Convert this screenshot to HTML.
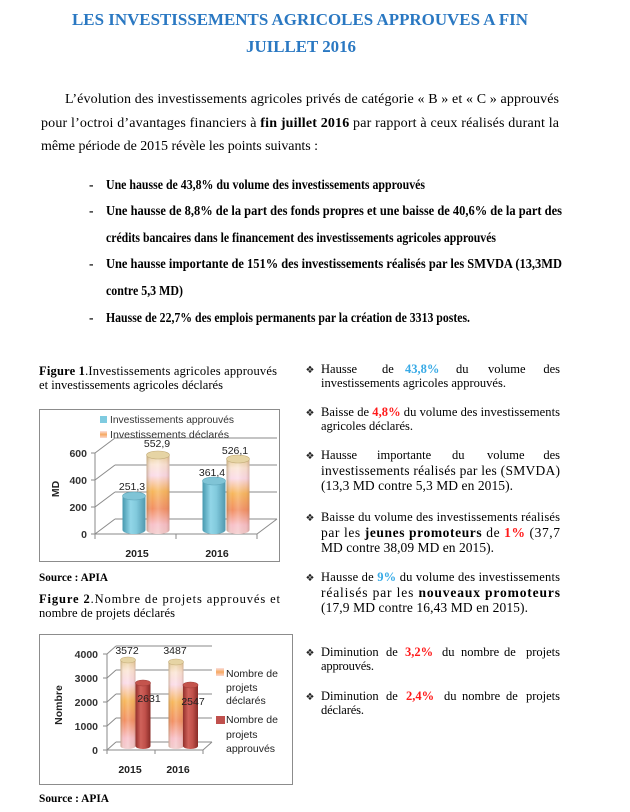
<!DOCTYPE html>
<html><head><meta charset="utf-8">
<style>
html,body{margin:0;padding:0;background:#fff;}
svg{display:block;}
.s{font-family:"Liberation Serif",serif;}
.a{font-family:"Liberation Sans",sans-serif;}
.d{font-family:"DejaVu Sans",sans-serif;}
</style></head>
<body>
<svg width="630" height="812" viewBox="0 0 630 812" xmlns="http://www.w3.org/2000/svg">
<defs>
  <linearGradient id="gBlue" x1="0" y1="0" x2="1" y2="0">
    <stop offset="0" stop-color="#4698ae"/>
    <stop offset="0.35" stop-color="#92d6e8"/>
    <stop offset="0.6" stop-color="#82cadd"/>
    <stop offset="1" stop-color="#5098ae"/>
  </linearGradient>
  <linearGradient id="gDeclV" x1="0" y1="0" x2="0" y2="1">
    <stop offset="0" stop-color="#e8cf98"/>
    <stop offset="0.12" stop-color="#fbe6d6"/>
    <stop offset="0.26" stop-color="#fbdbe8"/>
    <stop offset="0.46" stop-color="#f7b65a"/>
    <stop offset="0.68" stop-color="#f28f62"/>
    <stop offset="0.88" stop-color="#f8c0c8"/>
    <stop offset="1" stop-color="#f2cccc"/>
  </linearGradient>
  <linearGradient id="gDeclH" x1="0" y1="0" x2="1" y2="0">
    <stop offset="0" stop-color="#8a6a3a" stop-opacity="0.45"/>
    <stop offset="0.25" stop-color="#ffffff" stop-opacity="0"/>
    <stop offset="0.5" stop-color="#ffffff" stop-opacity="0.2"/>
    <stop offset="0.85" stop-color="#c08070" stop-opacity="0.1"/>
    <stop offset="1" stop-color="#906050" stop-opacity="0.35"/>
  </linearGradient>
  <linearGradient id="gRed" x1="0" y1="0" x2="1" y2="0">
    <stop offset="0" stop-color="#922f2b"/>
    <stop offset="0.35" stop-color="#d0625b"/>
    <stop offset="0.65" stop-color="#c0504a"/>
    <stop offset="1" stop-color="#882b27"/>
  </linearGradient>
  <linearGradient id="gSw" x1="0" y1="0" x2="0" y2="1">
    <stop offset="0" stop-color="#fbe0e0"/>
    <stop offset="0.5" stop-color="#f6a860"/>
    <stop offset="1" stop-color="#fbd8d0"/>
  </linearGradient>
</defs>

<!-- Title -->
<text class="s" x="72" y="25" font-size="17" font-weight="bold" fill="#2a78c2" textLength="456" lengthAdjust="spacingAndGlyphs">LES INVESTISSEMENTS AGRICOLES APPROUVES A FIN</text>
<text class="s" x="246" y="52" font-size="17" font-weight="bold" fill="#2a78c2" textLength="110" lengthAdjust="spacingAndGlyphs">JUILLET 2016</text>

<!-- Paragraph -->
<text class="s" x="65" y="103" font-size="14" fill="#000" textLength="494" lengthAdjust="spacing">L’évolution des investissements agricoles privés de catégorie « B » et « C » approuvés</text>
<text class="s" x="41" y="127" font-size="14" fill="#000" textLength="518" lengthAdjust="spacing">pour l’octroi d’avantages financiers à <tspan font-weight="bold">fin juillet 2016</tspan> par rapport à ceux réalisés durant la</text>
<text class="s" x="41" y="150" font-size="14" fill="#000" textLength="277" lengthAdjust="spacing">même période de 2015 révèle  les points suivants :</text>

<!-- Dash bullets -->
<g class="s" font-size="13.5" font-weight="bold" fill="#000">
  <text x="89" y="189">-</text>
  <text x="106" y="189" textLength="319" lengthAdjust="spacingAndGlyphs">Une hausse de 43,8% du volume des investissements approuvés</text>
  <text x="89" y="215">-</text>
  <text x="106" y="215" textLength="456" lengthAdjust="spacingAndGlyphs">Une hausse de 8,8% de la part des fonds propres  et une baisse de 40,6% de la part des</text>
  <text x="106" y="242" textLength="390" lengthAdjust="spacingAndGlyphs">crédits bancaires dans le financement des investissements agricoles approuvés</text>
  <text x="89" y="268">-</text>
  <text x="106" y="268" textLength="456" lengthAdjust="spacingAndGlyphs">Une hausse importante de 151% des investissements réalisés par les SMVDA (13,3MD</text>
  <text x="106" y="295" textLength="77" lengthAdjust="spacingAndGlyphs">contre 5,3 MD)</text>
  <text x="89" y="322">-</text>
  <text x="106" y="322" textLength="364" lengthAdjust="spacingAndGlyphs">Hausse de 22,7% des emplois permanents par la création de 3313 postes.</text>
</g>

<!-- Figure 1 caption -->
<text class="s" x="39" y="375" font-size="12.5" fill="#000" textLength="238" lengthAdjust="spacing"><tspan font-weight="bold">Figure 1</tspan>.Investissements agricoles approuvés</text>
<text class="s" x="39" y="389" font-size="12.5" fill="#000" textLength="184" lengthAdjust="spacing">et investissements agricoles déclarés</text>

<!-- Chart 1 -->
<rect x="39.5" y="409.5" width="240" height="152" fill="#fff" stroke="#8c8c8c" stroke-width="1"/>
<g stroke="#8a8a8a" stroke-width="1" fill="none">
  <line x1="115" y1="438" x2="277" y2="438"/>
  <line x1="115" y1="465" x2="277" y2="465"/>
  <line x1="115" y1="492" x2="277" y2="492"/>
  <line x1="115" y1="519" x2="277" y2="519"/>
  <line x1="95" y1="453" x2="115" y2="438"/>
  <line x1="95" y1="480" x2="115" y2="465"/>
  <line x1="95" y1="507" x2="115" y2="492"/>
  <line x1="95" y1="534" x2="115" y2="519"/>
  <line x1="95" y1="453" x2="95" y2="534"/>
  <line x1="91" y1="453" x2="95" y2="453"/>
  <line x1="91" y1="480" x2="95" y2="480"/>
  <line x1="91" y1="507" x2="95" y2="507"/>
  <line x1="91" y1="534" x2="95" y2="534"/>
  <line x1="95" y1="534" x2="257" y2="534"/>
  <line x1="257" y1="534" x2="277" y2="519"/>
  <line x1="95" y1="534" x2="95" y2="539"/>
  <line x1="176" y1="534" x2="176" y2="539"/>
  <line x1="257" y1="534" x2="257" y2="539"/>
</g>
<!-- legend 1 -->
<rect x="100" y="416" width="7" height="7" fill="#7fcbe0"/>
<text class="a" x="110" y="423" font-size="10.5" fill="#333" textLength="124" lengthAdjust="spacingAndGlyphs">Investissements approuvés</text>
<rect x="100" y="431" width="7" height="7" fill="url(#gSw)"/>
<text class="a" x="110" y="438" font-size="10.5" fill="#333" textLength="119" lengthAdjust="spacingAndGlyphs">Investissements déclarés</text>

<!-- bars chart 1 -->
<g>
  <path d="M122.5,496 L122.5,530 A11.5,4 0 0 0 145.5,530 L145.5,496 Z" fill="url(#gBlue)"/>
  <ellipse cx="134" cy="496" rx="11.5" ry="4" fill="#80c4d6" stroke="#60a8bb" stroke-width="0.6"/>
  <path d="M146.5,455 L146.5,530 A11.5,4 0 0 0 169.5,530 L169.5,455 Z" fill="url(#gDeclV)"/>
  <path d="M146.5,455 L146.5,530 A11.5,4 0 0 0 169.5,530 L169.5,455 Z" fill="url(#gDeclH)"/>
  <ellipse cx="158" cy="455" rx="11.5" ry="4" fill="#e6d4a4" stroke="#c4ad7c" stroke-width="0.6"/>

  <path d="M202.5,481 L202.5,530 A11.5,4 0 0 0 225.5,530 L225.5,481 Z" fill="url(#gBlue)"/>
  <ellipse cx="214" cy="481" rx="11.5" ry="4" fill="#80c4d6" stroke="#60a8bb" stroke-width="0.6"/>
  <path d="M226.5,459 L226.5,530 A11.5,4 0 0 0 249.5,530 L249.5,459 Z" fill="url(#gDeclV)"/>
  <path d="M226.5,459 L226.5,530 A11.5,4 0 0 0 249.5,530 L249.5,459 Z" fill="url(#gDeclH)"/>
  <ellipse cx="238" cy="459" rx="11.5" ry="4" fill="#e6d4a4" stroke="#c4ad7c" stroke-width="0.6"/>
</g>
<g class="a" font-size="10.5" fill="#222" text-anchor="middle">
  <text x="132" y="490">251,3</text>
  <text x="157" y="447">552,9</text>
  <text x="212" y="476">361,4</text>
  <text x="235" y="454">526,1</text>
</g>
<g class="a" font-size="10.5" font-weight="bold" fill="#333" text-anchor="end">
  <text x="87" y="457">600</text>
  <text x="87" y="484">400</text>
  <text x="87" y="511">200</text>
  <text x="87" y="538">0</text>
</g>
<text class="a" font-size="10.5" font-weight="bold" fill="#222" text-anchor="middle" transform="translate(59,489) rotate(-90)">MD</text>
<g class="a" font-size="10.5" font-weight="bold" fill="#222" text-anchor="middle">
  <text x="137" y="557">2015</text>
  <text x="217" y="557">2016</text>
</g>

<text class="s" x="39" y="581" font-size="12" font-weight="bold" fill="#000" textLength="69" lengthAdjust="spacingAndGlyphs">Source : APIA</text>

<!-- Figure 2 caption -->
<text class="s" x="39" y="603" font-size="12.5" fill="#000" textLength="241" lengthAdjust="spacing"><tspan font-weight="bold">Figure 2</tspan>.Nombre de projets approuvés et</text>
<text class="s" x="39" y="617" font-size="12.5" fill="#000" textLength="136" lengthAdjust="spacing">nombre de projets déclarés</text>

<!-- Chart 2 -->
<rect x="39.5" y="634.5" width="253" height="150" fill="#fff" stroke="#8c8c8c" stroke-width="1"/>
<g stroke="#8a8a8a" stroke-width="1" fill="none">
  <line x1="116" y1="646" x2="212" y2="646"/>
  <line x1="116" y1="670" x2="212" y2="670"/>
  <line x1="116" y1="694" x2="212" y2="694"/>
  <line x1="116" y1="718" x2="212" y2="718"/>
  <line x1="116" y1="742" x2="212" y2="742"/>
  <line x1="107" y1="654" x2="116" y2="646"/>
  <line x1="107" y1="678" x2="116" y2="670"/>
  <line x1="107" y1="702" x2="116" y2="694"/>
  <line x1="107" y1="726" x2="116" y2="718"/>
  <line x1="107" y1="750" x2="116" y2="742"/>
  <line x1="107" y1="654" x2="107" y2="750"/>
  <line x1="103" y1="654" x2="107" y2="654"/>
  <line x1="103" y1="678" x2="107" y2="678"/>
  <line x1="103" y1="702" x2="107" y2="702"/>
  <line x1="103" y1="726" x2="107" y2="726"/>
  <line x1="103" y1="750" x2="107" y2="750"/>
  <line x1="107" y1="750" x2="203" y2="750"/>
  <line x1="203" y1="750" x2="212" y2="742"/>
  <line x1="107" y1="750" x2="107" y2="754"/>
  <line x1="155" y1="750" x2="155" y2="754"/>
  <line x1="203" y1="750" x2="203" y2="754"/>
</g>
<g>
  <path d="M120.5,660 L120.5,746 A7.5,3 0 0 0 135.5,746 L135.5,660 Z" fill="url(#gDeclV)"/>
  <path d="M120.5,660 L120.5,746 A7.5,3 0 0 0 135.5,746 L135.5,660 Z" fill="url(#gDeclH)"/>
  <ellipse cx="128" cy="660" rx="7.5" ry="3" fill="#e6d4a4" stroke="#c4ad7c" stroke-width="0.6"/>
  <path d="M135.5,683 L135.5,746 A7.5,3 0 0 0 150.5,746 L150.5,683 Z" fill="url(#gRed)"/>
  <ellipse cx="143" cy="683" rx="7.5" ry="3" fill="#c4544d" stroke="#a03e39" stroke-width="0.6"/>

  <path d="M168.5,662 L168.5,746 A7.5,3 0 0 0 183.5,746 L183.5,662 Z" fill="url(#gDeclV)"/>
  <path d="M168.5,662 L168.5,746 A7.5,3 0 0 0 183.5,746 L183.5,662 Z" fill="url(#gDeclH)"/>
  <ellipse cx="176" cy="662" rx="7.5" ry="3" fill="#e6d4a4" stroke="#c4ad7c" stroke-width="0.6"/>
  <path d="M183,685 L183,746 A7.5,3 0 0 0 198,746 L198,685 Z" fill="url(#gRed)"/>
  <ellipse cx="190.5" cy="685" rx="7.5" ry="3" fill="#c4544d" stroke="#a03e39" stroke-width="0.6"/>
</g>
<g class="a" font-size="10.5" fill="#222" text-anchor="middle">
  <text x="127" y="654">3572</text>
  <text x="175" y="654">3487</text>
  <text x="149" y="702">2631</text>
  <text x="193" y="705">2547</text>
</g>
<g class="a" font-size="10.5" font-weight="bold" fill="#333" text-anchor="end">
  <text x="98" y="658">4000</text>
  <text x="98" y="682">3000</text>
  <text x="98" y="706">2000</text>
  <text x="98" y="730">1000</text>
  <text x="98" y="754">0</text>
</g>
<text class="a" font-size="10.5" font-weight="bold" fill="#222" text-anchor="middle" transform="translate(62,705) rotate(-90)">Nombre</text>
<g class="a" font-size="10.5" font-weight="bold" fill="#222" text-anchor="middle">
  <text x="130" y="773">2015</text>
  <text x="178" y="773">2016</text>
</g>
<!-- legend 2 -->
<rect x="216" y="668" width="8" height="8" fill="url(#gSw)"/>
<g class="a" font-size="10.5" fill="#222">
  <text x="226" y="677">Nombre de</text>
  <text x="226" y="691">projets</text>
  <text x="226" y="704">déclarés</text>
  <text x="226" y="723">Nombre de</text>
  <text x="226" y="738">projets</text>
  <text x="226" y="752">approuvés</text>
</g>
<rect x="216" y="716" width="9" height="8" fill="#c0504d"/>

<text class="s" x="39" y="802" font-size="12" font-weight="bold" fill="#000" textLength="70" lengthAdjust="spacingAndGlyphs">Source : APIA</text>

<!-- Right column -->
<g class="d" font-size="10" fill="#222" text-anchor="middle">
  <text x="310" y="373">❖</text>
  <text x="310" y="416">❖</text>
  <text x="310" y="459">❖</text>
  <text x="310" y="521">❖</text>
  <text x="310" y="581">❖</text>
  <text x="310" y="656">❖</text>
  <text x="310" y="700">❖</text>
</g>
<g class="s" font-size="12.5" fill="#000">
  <!-- B1 -->
  <text x="321" y="373">Hausse</text>
  <text x="382" y="373">de</text>
  <text x="405" y="373" font-weight="bold" fill="#38aae6">43,8%</text>
  <text x="456" y="373">du</text>
  <text x="488" y="373">volume</text>
  <text x="560" y="373" text-anchor="end">des</text>
  <text x="321" y="387" textLength="185" lengthAdjust="spacing">investissements agricoles approuvés.</text>
  <!-- B2 -->
  <text x="321" y="416" textLength="239" lengthAdjust="spacing">Baisse de <tspan font-weight="bold" fill="#ff1a1a">4,8%</tspan> du volume des investissements</text>
  <text x="321" y="430" textLength="92" lengthAdjust="spacing">agricoles déclarés.</text>
  <!-- B3 -->
  <text x="321" y="459">Hausse</text>
  <text x="377" y="459">importante</text>
  <text x="452" y="459">du</text>
  <text x="487" y="459">volume</text>
  <text x="560" y="459" text-anchor="end">des</text>
  <text x="321" y="475" font-size="13.5" textLength="239" lengthAdjust="spacing">investissements réalisés par les (SMVDA)</text>
  <text x="321" y="490" font-size="13.5" textLength="192" lengthAdjust="spacing">(13,3 MD contre 5,3 MD en 2015).</text>
  <!-- B4 -->
  <text x="321" y="521" textLength="239" lengthAdjust="spacing">Baisse du volume des investissements réalisés</text>
  <text x="321" y="537" font-size="13.5" textLength="239" lengthAdjust="spacing">par les <tspan font-weight="bold">jeunes promoteurs</tspan> de <tspan font-weight="bold" fill="#ff1a1a">1%</tspan> (37,7</text>
  <text x="321" y="552" font-size="13.5" textLength="173" lengthAdjust="spacing">MD contre 38,09 MD en 2015).</text>
  <!-- B5 -->
  <text x="321" y="581" textLength="239" lengthAdjust="spacing">Hausse de <tspan font-weight="bold" fill="#38aae6">9%</tspan> du volume des investissements</text>
  <text x="321" y="597" font-size="13.5" textLength="239" lengthAdjust="spacing">réalisés par les <tspan font-weight="bold">nouveaux promoteurs</tspan></text>
  <text x="321" y="612" font-size="13.5" textLength="207" lengthAdjust="spacing">(17,9 MD contre 16,43 MD en 2015).</text>
  <!-- B6 -->
  <text x="321" y="656">Diminution</text>
  <text x="386" y="656">de</text>
  <text x="405" y="656" font-weight="bold" fill="#ff1a1a">3,2%</text>
  <text x="442" y="656">du</text>
  <text x="461" y="656">nombre</text>
  <text x="504" y="656">de</text>
  <text x="560" y="656" text-anchor="end">projets</text>
  <text x="321" y="670" textLength="53" lengthAdjust="spacing">approuvés.</text>
  <!-- B7 -->
  <text x="321" y="700">Diminution</text>
  <text x="386" y="700">de</text>
  <text x="406" y="700" font-weight="bold" fill="#ff1a1a">2,4%</text>
  <text x="444" y="700">du</text>
  <text x="462" y="700">nombre</text>
  <text x="506" y="700">de</text>
  <text x="560" y="700" text-anchor="end">projets</text>
  <text x="321" y="714" textLength="43" lengthAdjust="spacing">déclarés.</text>
</g>
</svg>
</body></html>
